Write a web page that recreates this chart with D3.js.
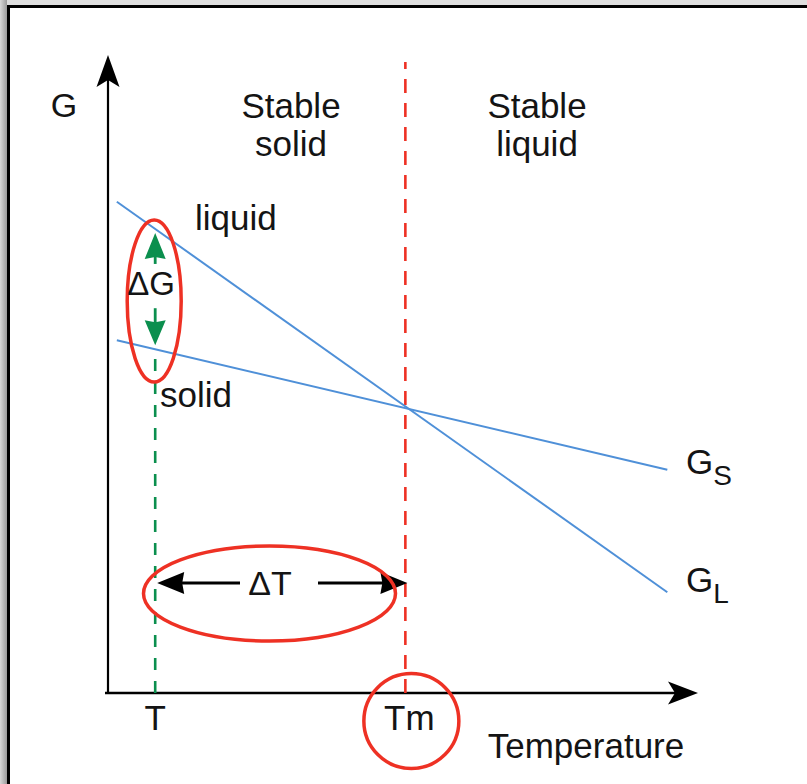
<!DOCTYPE html>
<html>
<head>
<meta charset="utf-8">
<script src="https://cdn.jsdelivr.net/npm/d3@7"></script>
<style>
  body { margin: 0; background: #fff; }
  svg { display: block; }
  text { font-family: "Liberation Sans", Arial, sans-serif; fill: #141414; }
</style>
</head>
<body>
<svg></svg>
<script>
// Values (temperature and G in arbitrary 0-100 units)
const tempEnds = [1.5, 94.8];
const liquidG = [77.0, 15.8];
const solidG = [55.3, 35.0];
const markTemps = [8.0, 50.4]; // T, Tm
const markLabels = ["T", "Tm"];
const regionLabels = [["Stable", "solid"], ["Stable", "liquid"]];
const curveLabels = [["G", "L"], ["G", "S"]];

const w = 807;
const h = 784;
const fontSize = 35;

const svg = d3.select("svg").attr("width", w).attr("height", h);

// frame: grey edge, black border top and left
const defs = svg.append("defs");
const grad = defs.append("linearGradient").attr("id", "edge");
grad.append("stop").attr("offset", "0%").attr("stop-color", "#d8d8d8");
grad.append("stop").attr("offset", "100%").attr("stop-color", "#9a9a9a");
svg.append("rect").attr("width", w).attr("height", h).attr("fill", "#dedede");
svg.append("rect").attr("width", 7).attr("height", h).attr("fill", "url(#edge)");
svg.append("rect").attr("x", 7).attr("y", 5).attr("width", w - 7).attr("height", h - 5).attr("fill", "#fff");
svg.append("path")
  .attr("d", `M8.5,${h} V6.5 H${w}`)
  .attr("fill", "none")
  .attr("stroke", "#000")
  .attr("stroke-width", 3);

// scales
const xScale = d3.scaleLinear().domain([0, 100]).range([108, 698]);
const yScale = d3.scaleLinear().domain([0, 100]).range([693, 55]);

const x0 = xScale(0);
const y0 = yScale(0);

// helper for arrow heads (dart shape pointing along angle)
function arrowHead(tx, ty, len, half, notch, angle) {
  const pts = [
    [0, 0],
    [-len, -half],
    [-len + notch, 0],
    [-len, half]
  ].map(([px, py]) => {
    const c = Math.cos(angle), s = Math.sin(angle);
    return [tx + px * c - py * s, ty + px * s + py * c];
  });
  return d3.line()(pts) + "Z";
}

// axes
svg.append("line")
  .attr("x1", x0).attr("y1", y0 + 1)
  .attr("x2", x0).attr("y2", yScale(100) + 10)
  .attr("stroke", "#000").attr("stroke-width", 2.2);
svg.append("path")
  .attr("d", arrowHead(x0, yScale(100), 32, 11.5, 7, -Math.PI / 2))
  .attr("fill", "#000");

svg.append("line")
  .attr("x1", x0 - 3).attr("y1", y0)
  .attr("x2", xScale(100) - 10).attr("y2", y0)
  .attr("stroke", "#000").attr("stroke-width", 2.5);
svg.append("path")
  .attr("d", arrowHead(xScale(100), y0, 30, 11.5, 7, 0))
  .attr("fill", "#000");

// Tm dashed line (red)
svg.append("line")
  .attr("x1", xScale(markTemps[1])).attr("y1", y0)
  .attr("x2", xScale(markTemps[1])).attr("y2", 62)
  .attr("stroke", "#ee3124").attr("stroke-width", 2.6)
  .attr("stroke-dasharray", "14,10");

// free energy lines
const lineGen = d3.line().x(d => xScale(d[0])).y(d => yScale(d[1]));
[liquidG, solidG].forEach(g => {
  svg.append("path")
    .attr("d", lineGen(tempEnds.map((t, i) => [t, g[i]])))
    .attr("fill", "none")
    .attr("stroke", "#4f90d8")
    .attr("stroke-width", 2);
});

// G values at T
const gAt = (g, t) =>
  g[0] + ((t - tempEnds[0]) * (g[1] - g[0])) / (tempEnds[1] - tempEnds[0]);
const xT = xScale(markTemps[0]);
const yLiqT = yScale(gAt(liquidG, markTemps[0]));
const ySolT = yScale(gAt(solidG, markTemps[0]));

// T dashed line (green) with the ΔG arrows
const green = "#0b8f4e";
svg.append("line")
  .attr("x1", xT).attr("y1", y0)
  .attr("x2", xT).attr("y2", ySolT)
  .attr("stroke", green).attr("stroke-width", 2.6)
  .attr("stroke-dasharray", "12,11");
svg.append("line")
  .attr("x1", xT).attr("y1", yLiqT + 22)
  .attr("x2", xT).attr("y2", yLiqT + 35)
  .attr("stroke", green).attr("stroke-width", 2.8);
svg.append("path")
  .attr("d", arrowHead(xT, yLiqT + 4, 26, 10.5, 2, -Math.PI / 2))
  .attr("fill", green);
svg.append("line")
  .attr("x1", xT).attr("y1", ySolT - 41)
  .attr("x2", xT).attr("y2", ySolT - 24)
  .attr("stroke", green).attr("stroke-width", 2.8);
svg.append("path")
  .attr("d", arrowHead(xT, ySolT - 4, 25, 10.5, 2, Math.PI / 2))
  .attr("fill", green);

// ΔT arrow
const yDT = 583;
svg.append("line")
  .attr("x1", xT + 20).attr("y1", yDT).attr("x2", 240).attr("y2", yDT)
  .attr("stroke", "#000").attr("stroke-width", 3);
svg.append("line")
  .attr("x1", 318).attr("y1", yDT).attr("x2", xScale(markTemps[1]) - 15).attr("y2", yDT)
  .attr("stroke", "#000").attr("stroke-width", 3);
svg.append("path")
  .attr("d", arrowHead(xT + 2, yDT, 27, 11, 2, Math.PI))
  .attr("fill", "#000");
svg.append("path")
  .attr("d", arrowHead(xScale(markTemps[1]) + 2, yDT, 27, 11, 2, 0))
  .attr("fill", "#000");

// red highlight ellipses
const red = "#ee3124";
svg.append("ellipse")
  .attr("cx", xT - 1).attr("cy", (yLiqT + ySolT) / 2 + 12)
  .attr("rx", 27).attr("ry", 81)
  .attr("fill", "none").attr("stroke", red).attr("stroke-width", 3.5);
svg.append("ellipse")
  .attr("cx", 269.5).attr("cy", 593.5)
  .attr("rx", 126).attr("ry", 47.5)
  .attr("fill", "none").attr("stroke", red).attr("stroke-width", 3.5);
svg.append("circle")
  .attr("cx", xScale(markTemps[1]) + 6).attr("cy", 721)
  .attr("r", 47.5)
  .attr("fill", "none").attr("stroke", red).attr("stroke-width", 3.5);

// text labels
function label(txt, x, y, anchor, size) {
  return svg.append("text")
    .attr("x", x).attr("y", y)
    .attr("text-anchor", anchor || "start")
    .style("font-size", `${size || fontSize}px`)
    .text(txt);
}

label("G", 64, 117, "middle", 34);
label("Temperature", 586, 758, "middle");

markLabels.forEach((m, i) => {
  label(m, xScale(markTemps[i]) + (i ? 4 : 0), 730, "middle");
});

const regionX = [291, 537];
regionLabels.forEach((lines, i) => {
  lines.forEach((l, j) => label(l, regionX[i], 118 + j * 38, "middle"));
});

label("liquid", 195, 230);
label("solid", 160, 407);
label("ΔG", 151, 295, "middle", 33);
label("ΔT", 270, 595, "middle", 34);

// curve names with subscripts
const curveY = [592, 474];
curveLabels.forEach((c, i) => {
  const t = svg.append("text")
    .attr("x", 686).attr("y", curveY[i])
    .style("font-size", `${fontSize}px`);
  t.append("tspan").text(c[0]);
  t.append("tspan").attr("dy", 11).style("font-size", "28px").text(c[1]);
});
</script>
</body>
</html>
